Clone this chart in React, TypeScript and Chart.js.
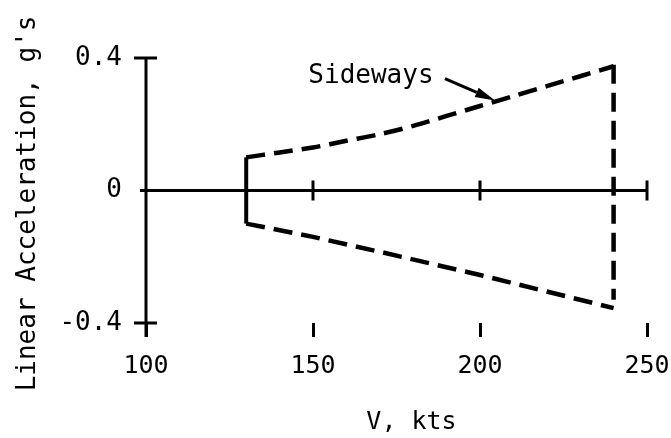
import React, { useEffect, useRef } from "react";
import { Chart, registerables } from "chart.js";

Chart.register(...registerables);

// ---- data ----
const upperSpeeds = [130, 140, 150, 160, 170, 180, 190, 200, 210, 220, 230, 240];
const upperAccel = [0.1, 0.115, 0.13, 0.15, 0.17, 0.195, 0.225, 0.255, 0.285, 0.315, 0.345, 0.375];
const lowerSpeeds = [130, 150, 170, 200, 220, 240];
const lowerAccel = [-0.1, -0.14, -0.185, -0.255, -0.305, -0.355];
const leftEdgeSpeeds = [130, 130];
const leftEdgeAccel = [-0.1, 0.1];
const rightEdgeSpeeds = [240, 240];
const rightEdgeAccel = [0.38, -0.33];

const xTickValues = [100, 150, 200, 250];
const xTickLabels = ["100", "150", "200", "250"];
const yTickValues = [-0.4, 0, 0.4];
const yTickLabels = ["-0.4", "0", "0.4"];
const xAxisCrossTicks = [150, 200, 250];

const xTitle = "V, kts";
const yTitle = "Linear Acceleration, g's";
const calloutText = "Sideways";
const calloutArrowFrom = [189.5, 0.338];
const calloutArrowTo = [204.5, 0.272];
const calloutAnchor = [148.6, 0.325];

const FONT = '"DejaVu Sans Mono", monospace';

const pts = (xs: number[], ys: number[]) => xs.map((v, i) => ({ x: v, y: ys[i] }));

const handAxes = {
  id: "handAxes",
  afterDatasetsDraw(chart: any) {
    const { ctx, scales } = chart;
    const xs = scales.x;
    const ys = scales.y;
    const xMin = xTickValues[0];
    const xMax = xTickValues[xTickValues.length - 1];
    const yMin = yTickValues[0];
    const yMax = yTickValues[yTickValues.length - 1];
    const ox = xs.getPixelForValue(xMin);
    const oy = ys.getPixelForValue(0);
    const yTop = ys.getPixelForValue(yMax);
    const yBot = ys.getPixelForValue(yMin);

    ctx.save();
    ctx.strokeStyle = "#000";
    ctx.fillStyle = "#000";
    ctx.lineWidth = 3;
    ctx.lineCap = "butt";

    // y axis line
    ctx.beginPath();
    ctx.moveTo(ox, yTop);
    ctx.lineTo(ox, yBot + 14);
    ctx.stroke();
    // y axis cross ticks
    [yMax, yMin].forEach((v) => {
      const p = ys.getPixelForValue(v);
      ctx.beginPath();
      ctx.moveTo(ox - 12, p);
      ctx.lineTo(ox + 11, p);
      ctx.stroke();
    });
    // x axis line at zero
    ctx.beginPath();
    ctx.moveTo(ox - 6, oy);
    ctx.lineTo(xs.getPixelForValue(xMax), oy);
    ctx.stroke();
    xAxisCrossTicks.forEach((v) => {
      const p = xs.getPixelForValue(v);
      ctx.beginPath();
      ctx.moveTo(p, oy - 10);
      ctx.lineTo(p, oy + 10);
      ctx.stroke();
    });

    // callout
    ctx.font = `26px ${FONT}`;
    ctx.textAlign = "left";
    ctx.textBaseline = "alphabetic";
    ctx.fillText(calloutText, xs.getPixelForValue(calloutAnchor[0]), ys.getPixelForValue(calloutAnchor[1]));
    const ax1 = xs.getPixelForValue(calloutArrowFrom[0]);
    const ay1 = ys.getPixelForValue(calloutArrowFrom[1]);
    const ax2 = xs.getPixelForValue(calloutArrowTo[0]);
    const ay2 = ys.getPixelForValue(calloutArrowTo[1]);
    const ang = Math.atan2(ay2 - ay1, ax2 - ax1);
    const headLen = 20;
    const bx = ax2 - headLen * Math.cos(ang);
    const by = ay2 - headLen * Math.sin(ang);
    ctx.beginPath();
    ctx.moveTo(ax1, ay1);
    ctx.lineTo(bx, by);
    ctx.stroke();
    ctx.beginPath();
    ctx.moveTo(ax2, ay2);
    ctx.lineTo(bx + 5 * Math.sin(ang), by - 5 * Math.cos(ang));
    ctx.lineTo(bx - 5 * Math.sin(ang), by + 5 * Math.cos(ang));
    ctx.closePath();
    ctx.fill();

    // axis titles
    ctx.font = `25px ${FONT}`;
    ctx.textAlign = "center";
    ctx.fillText(xTitle, (xs.getPixelForValue(xMin) + xs.getPixelForValue(xMax)) / 2 + 15, chart.height - 9);

    ctx.save();
    ctx.font = `26px ${FONT}`;
    ctx.translate(35, (yTop + yBot) / 2 + 13);
    ctx.rotate(-Math.PI / 2);
    ctx.textAlign = "center";
    ctx.fillText(yTitle, 0, 0);
    ctx.restore();

    ctx.restore();
  },
};

export default function App() {
  const ref = useRef<HTMLCanvasElement>(null);

  useEffect(() => {
    if (!ref.current) return;
    const dashed = [19, 9];
    const chart = new Chart(ref.current, {
      type: "scatter",
      data: {
        datasets: [
          {
            data: pts(upperSpeeds, upperAccel),
            showLine: true,
            borderColor: "#000",
            borderWidth: 4.5,
            borderDash: dashed,
            pointRadius: 0,
            tension: 0.3,
          },
          {
            data: pts(lowerSpeeds, lowerAccel),
            showLine: true,
            borderColor: "#000",
            borderWidth: 4.5,
            borderDash: dashed,
            pointRadius: 0,
          },
          {
            data: pts(leftEdgeSpeeds, leftEdgeAccel),
            showLine: true,
            borderColor: "#000",
            borderWidth: 4,
            pointRadius: 0,
          },
          {
            data: pts(rightEdgeSpeeds, rightEdgeAccel),
            showLine: true,
            borderColor: "#000",
            borderWidth: 4.5,
            borderDash: dashed,
            pointRadius: 0,
          },
        ],
      },
      options: {
        responsive: false,
        animation: false,
        events: [],
        layout: { padding: { top: 58, right: 24, left: 0, bottom: 0 } },
        plugins: { legend: { display: false }, tooltip: { enabled: false }, title: { display: false } },
        scales: {
          x: {
            type: "linear",
            min: xTickValues[0],
            max: xTickValues[xTickValues.length - 1],
            afterBuildTicks: (s: any) => {
              s.ticks = xTickValues.map((v) => ({ value: v }));
            },
            afterFit: (s: any) => {
              s.height = 115;
              s.paddingLeft = 0;
              s.paddingRight = 0;
            },
            border: { display: false },
            grid: {
              display: true,
              drawOnChartArea: false,
              drawTicks: true,
              tickLength: 14,
              color: "#000",
              lineWidth: 3,
            },
            ticks: {
              autoSkip: false,
              maxRotation: 0,
              padding: 14,
              color: "#000",
              font: { family: FONT, size: 25 },
              callback: (v: any) => {
                const i = xTickValues.indexOf(Number(v));
                return i >= 0 ? xTickLabels[i] : "";
              },
            },
          },
          y: {
            type: "linear",
            min: yTickValues[0],
            max: yTickValues[yTickValues.length - 1],
            afterBuildTicks: (s: any) => {
              s.ticks = yTickValues.map((v) => ({ value: v }));
            },
            afterFit: (s: any) => {
              s.width = 146;
              s.paddingTop = 0;
              s.paddingBottom = 0;
            },
            border: { display: false },
            grid: { display: false, drawTicks: false },
            ticks: {
              autoSkip: false,
              padding: 24,
              color: "#000",
              font: { family: FONT, size: 26 },
              callback: (v: any) => {
                const i = yTickValues.findIndex((t) => Math.abs(t - Number(v)) < 1e-9);
                return i >= 0 ? yTickLabels[i] : "";
              },
            },
          },
        },
      },
      plugins: [handAxes],
    });
    return () => chart.destroy();
  }, []);

  return (
    <canvas
      ref={ref}
      width={671}
      height={438}
      style={{ position: "absolute", left: 0, top: 0, display: "block", background: "#fff" }}
    />
  );
}
